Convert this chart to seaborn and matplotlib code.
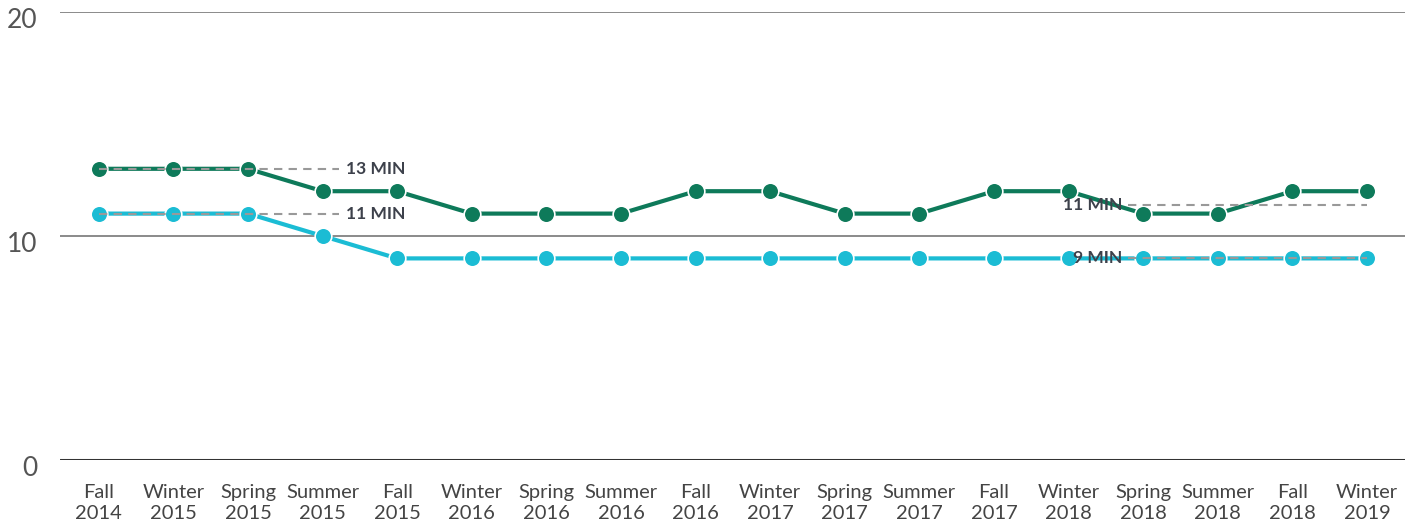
import matplotlib
matplotlib.use("Agg")
import matplotlib.pyplot as plt
import matplotlib.transforms as mtransforms
import seaborn as sns
import pandas as pd
import numpy as np

terms = ["Fall\n2014", "Winter\n2015", "Spring\n2015", "Summer\n2015", "Fall\n2015",
         "Winter\n2016", "Spring\n2016", "Summer\n2016", "Fall\n2016", "Winter\n2017",
         "Spring\n2017", "Summer\n2017", "Fall\n2017", "Winter\n2018", "Spring\n2018",
         "Summer\n2018", "Fall\n2018", "Winter\n2019"]
series_a = [13, 13, 13, 12, 12, 11, 11, 11, 12, 12, 11, 11, 12, 12, 11, 11, 12, 12]
series_b = [11, 11, 11, 10, 9, 9, 9, 9, 9, 9, 9, 9, 9, 9, 9, 9, 9, 9]
ref_left = [13, 11]
ref_left_labels = ["13 MIN", "11 MIN"]
ref_right = [11.4, 9]
ref_right_labels = ["11 MIN", "9 MIN"]
yticks = [0, 10, 20]

sns.set_theme(style="white")
plt.rcParams['font.family'] = ['Lato', 'DejaVu Sans']

dark = "#0e7a5a"
light = "#1bbcd4"

df = pd.DataFrame({
    "idx": list(range(len(terms))) * 2,
    "value": series_a + series_b,
    "series": ["A"] * len(terms) + ["B"] * len(terms),
})

fig = plt.figure(figsize=(14.19, 5.27), dpi=100)
ax = fig.add_axes([60 / 1419, 67 / 527, (1405 - 60) / 1419, (515 - 67) / 527])

for y in [10, 20]:
    ax.axhline(y, color="#777777", lw=1.2, zorder=0)
ax.axhline(0, color="#333333", lw=2.2, zorder=0)

sns.lineplot(data=df, x="idx", y="value", hue="series", palette={"A": dark, "B": light},
             marker="o", markersize=12, markeredgecolor="white", markeredgewidth=1.2,
             linewidth=3.0, legend=False, ax=ax, zorder=3)

for v, lab in zip(ref_left, ref_left_labels):
    ax.plot([0, 3.22], [v, v], color="#999999", lw=1.5, dashes=(4, 3), zorder=4)
    ax.text(3.32, v, lab, color="#3d414b", fontsize=12.5, fontweight="bold",
            va="center", ha="left", zorder=5)
for v, lab in zip(ref_right, ref_right_labels):
    ax.plot([13.8, 17], [v, v], color="#999999", lw=1.5, dashes=(4, 3), zorder=4)
    ax.text(13.72, v, lab, color="#3d414b", fontsize=12.5, fontweight="bold",
            va="center", ha="right", zorder=5)

ax.set_xlim(-0.52, 17.51)
ax.set_ylim(0, 20)
ax.set_xticks(range(len(terms)))
ax.set_xticklabels(terms, fontsize=14.5, color="#444444", linespacing=1.3)
ax.set_yticks(yticks)
ax.set_yticklabels([str(t) for t in yticks], fontsize=19, color="#555555")
ax.tick_params(axis="x", length=0, pad=17)
ax.tick_params(axis="y", length=0, pad=16)
offset = mtransforms.ScaledTranslation(0, 4 / 100, fig.dpi_scale_trans)
for lab in ax.get_yticklabels():
    lab.set_verticalalignment("top")
    lab.set_transform(lab.get_transform() + offset)
ax.set_xlabel("")
ax.set_ylabel("")
for s in ax.spines.values():
    s.set_visible(False)
ax.grid(False)

fig.savefig("out.png", dpi=100)
